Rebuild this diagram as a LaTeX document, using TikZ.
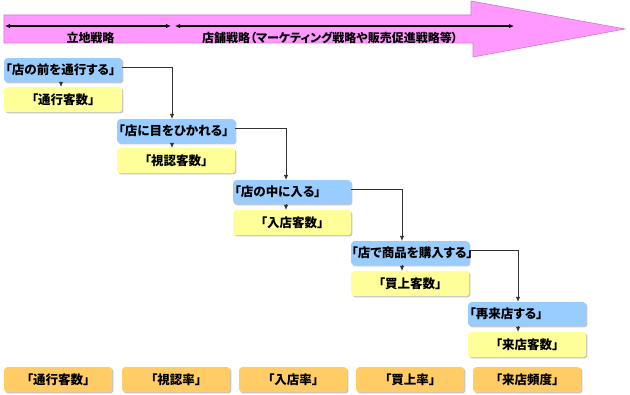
\documentclass[tikz,border=0pt]{standalone}
\usepackage{fontspec}
\setmainfont{Noto Sans CJK JP}[RawFeature=+palt]
\usetikzlibrary{arrows.meta,shadows,calc}
\definecolor{pinkA}{HTML}{FF99FF}
\definecolor{pinkD}{HTML}{CC77CC}
\definecolor{blueA}{HTML}{99CCFF}
\definecolor{yelA}{HTML}{FFFF99}
\definecolor{orA}{HTML}{FFCC66}
\definecolor{lineC}{HTML}{333333}
\tikzset{
  basebox/.style={rectangle, rounded corners=3pt, inner sep=0pt, anchor=north west,
    font=\fontsize{12.5}{14}\selectfont\bfseries,
    drop shadow={shadow xshift=1.2pt, shadow yshift=-1.2pt, fill=black!45, opacity=0.5}},
  bluebox/.style={basebox, fill=blueA, minimum width=118pt, minimum height=24pt},
  yelbox/.style={basebox, fill=yelA, minimum width=118pt, minimum height=25pt},
  orbox/.style={basebox, fill=orA, minimum width=108pt, minimum height=25pt},
  btext/.style={anchor=west, inner sep=0pt, xshift=1.5pt, font=\fontsize{12.5}{14}\selectfont\bfseries},
  conn/.style={draw=lineC, line width=0.9pt, -{Latex[length=5pt,width=4.5pt]}},
  dbl/.style={draw=black, line width=1.2pt, {Latex[length=5pt,width=4.5pt]}-{Latex[length=5pt,width=4.5pt]}},
  toptext/.style={inner sep=0pt}
}
\begin{document}
\begin{tikzpicture}[x=1pt,y=-1pt,font=\fontsize{12}{14}\selectfont\bfseries]
\useasboundingbox (0,0) rectangle (630,395);
% big arrow
\draw[fill=pinkA, draw=pinkD, line width=0.6pt] (4,15) -- (471,15) -- (471,1) -- (625,29) -- (473,57) -- (473,43) -- (4,43) -- cycle;
\coordinate (a0) at (5,26);
\coordinate (a1) at (171,26);
\coordinate (a2) at (175,26);
\coordinate (a3) at (514,26);
\draw[dbl] (a0) -- (a1);
\draw[dbl] (a2) -- (a3);
\node[toptext] (t1) at (90.5,37.5) {立地戦略};
\node[toptext] (t2) at (330,37.5) {店舗戦略（マーケティング戦略や販売促進戦略等）};
% blue boxes
\node[bluebox, label={[btext]west:「店の前を通行する」}] (b1) at (4,58) {};
\node[bluebox, label={[btext]west:「店に目をひかれる」}] (b2) at (117,119) {};
\node[bluebox, label={[btext]west:「店の中に入る」}] (b3) at (233,180) {};
\node[bluebox, label={[btext,xshift=-1pt]west:「店で商品を購入する」}] (b4) at (351,241) {};
\node[bluebox, label={[btext]west:「再来店する」}] (b5) at (468,302) {};
% yellow boxes
\node[yelbox] (y1) at (4,87) {「通行客数」};
\node[yelbox] (y2) at (117,148) {「視認客数」};
\node[yelbox] (y3) at (233,210) {「入店客数」};
\node[yelbox] (y4) at (351,271) {「買上客数」};
\node[yelbox] (y5) at (468,332) {「来店客数」};
% orange boxes
\node[orbox] (o1) at (4,367) {「通行客数」};
\node[orbox] (o2) at (122,367) {「視認率」};
\node[orbox] (o3) at (239,367) {「入店率」};
\node[orbox] (o4) at (356,367) {「買上率」};
\node[orbox] (o5) at (473,367) {「来店頻度」};
% vertical arrows
\draw[conn] ($(b1.south west)+(57,0)$) -- ($(y1.north west)+(57,0)$);
\draw[conn] ($(b2.south west)+(55,0)$) -- ($(y2.north west)+(55,0)$);
\draw[conn] ($(b3.south west)+(53,0)$) -- ($(y3.north west)+(53,0)$);
\draw[conn] ($(b4.south west)+(51,0)$) -- ($(y4.north west)+(51,0)$);
\draw[conn] ($(b5.south west)+(50,0)$) -- ($(y5.north west)+(50,0)$);
% step connectors
\draw[conn] ([yshift=3pt]b1.east) -| ($(b2.north west)+(55,0)$);
\draw[conn] ([yshift=3pt]b2.east) -| ($(b3.north west)+(53,0)$);
\draw[conn] ([yshift=3pt]b3.east) -| ($(b4.north west)+(51,0)$);
\draw[conn] ([yshift=3pt]b4.east) -| ($(b5.north west)+(50,0)$);
\end{tikzpicture}
\end{document}
